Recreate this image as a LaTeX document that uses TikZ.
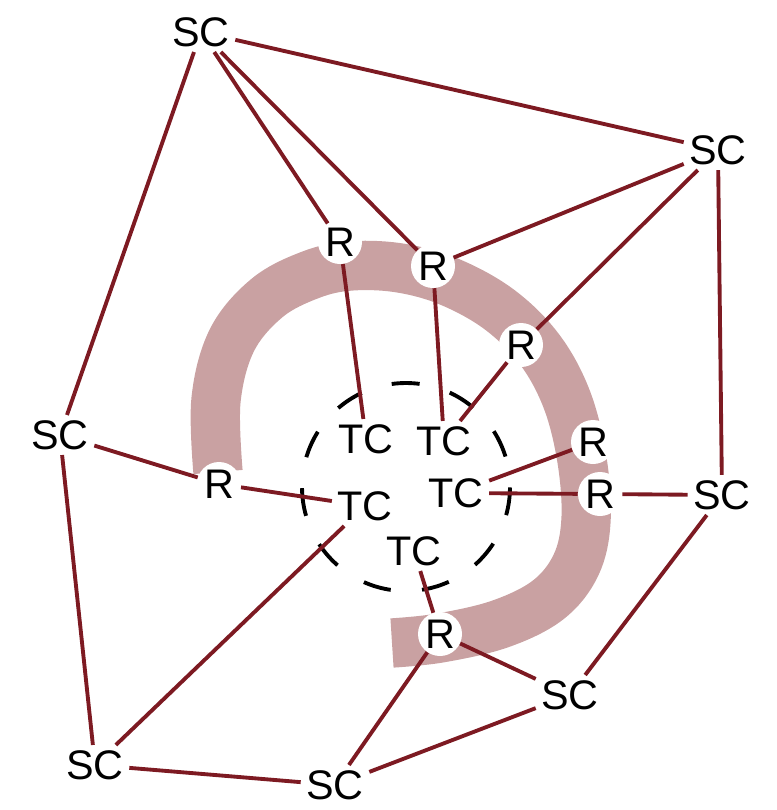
\documentclass[tikz,border=0pt]{standalone}
\usepackage{fontspec}
\setmainfont{Liberation Sans}
\definecolor{edgered}{RGB}{125,26,34}
\definecolor{bandpink}{RGB}{201,161,162}
\begin{document}
\begin{tikzpicture}[x=0.75pt,y=-0.75pt,
  lbl/.style={font=\fontsize{31}{36}\selectfont, inner sep=4pt, text depth=0pt},
  scnode/.style={lbl},
  tcnode/.style={lbl},
  rnode/.style={lbl, circle, fill=white, minimum size=33pt, inner sep=0pt},
  link/.style={draw=edgered, line width=2.9pt},
  bandline/.style={draw=bandpink, line width=37pt},
  dashcirc/.style={draw=black, line width=2.9pt, dash pattern=on 21pt off 23.56pt, dash phase=21.4pt}
  ]
\useasboundingbox (0,0) rectangle (776,810);

% spiral band
\draw[bandline] plot[smooth, tension=0.6] coordinates {
  (218,472) (216,400) (232,340) (267,298) (310,275) (350,266) (400,268)
  (450,282) (500,310) (540,350) (567,400) (582,460) (586,520) (576,565)
  (548,600) (500,624) (440,638) (392,643)};

% nodes
\node[scnode] (sc1) at (201,32) {SC};
\node[scnode] (sc2) at (718,150) {SC};
\node[scnode] (sc3) at (60,435) {SC};
\node[scnode] (sc4) at (722,495) {SC};
\node[scnode] (sc5) at (570,695) {SC};
\node[scnode] (sc6) at (95,765) {SC};
\node[scnode] (sc7) at (335,785) {SC};

\node[tcnode] (tc1) at (366,439) {TC};
\node[tcnode] (tc2) at (444,441) {TC};
\node[tcnode] (tc3) at (456,493) {TC};
\node[tcnode] (tc4) at (365,506) {TC};
\node[tcnode] (tc5) at (414,551) {TC};

\coordinate (cc) at (406,487);
\draw[dashcirc] (cc) circle[radius=78pt];

% connectors
\draw[link] (sc1) -- (sc2);
\draw[link] (sc1) -- (sc3);
\draw[link] (sc2) -- (sc4);
\draw[link] (sc3) -- (sc6);
\draw[link] (sc4) -- (sc5);
\draw[link] (sc5) -- (sc7);
\draw[link] (sc6) -- (sc7);
\draw[link] (sc6) -- (tc4);

\node[rnode] (ra) at (340,242) {R};
\node[rnode] (rb) at (433,266) {R};
\node[rnode] (rc) at (521,345) {R};
\node[rnode] (rd) at (593,442) {R};
\node[rnode] (re) at (600,494) {R};
\node[rnode] (rf) at (219,484) {R};
\node[rnode] (rg) at (440,634) {R};

\draw[link] (sc1) -- (ra);
\draw[link] (sc1) -- (rb);
\draw[link] (sc2) -- (rb);
\draw[link] (sc2) -- (rc);
\draw[link] (sc3) -- (rf);
\draw[link] (sc4) -- (re);
\draw[link] (sc5) -- (rg);
\draw[link] (sc7) -- (rg);
\draw[link] (ra) -- (tc1);
\draw[link] (rb) -- (tc2);
\draw[link] (rc) -- (tc2);
\draw[link] (rd) -- (tc3);
\draw[link] (re) -- (tc3);
\draw[link] (rf) -- (tc4);
\draw[link] (rg) -- (tc5);
\end{tikzpicture}
\end{document}
